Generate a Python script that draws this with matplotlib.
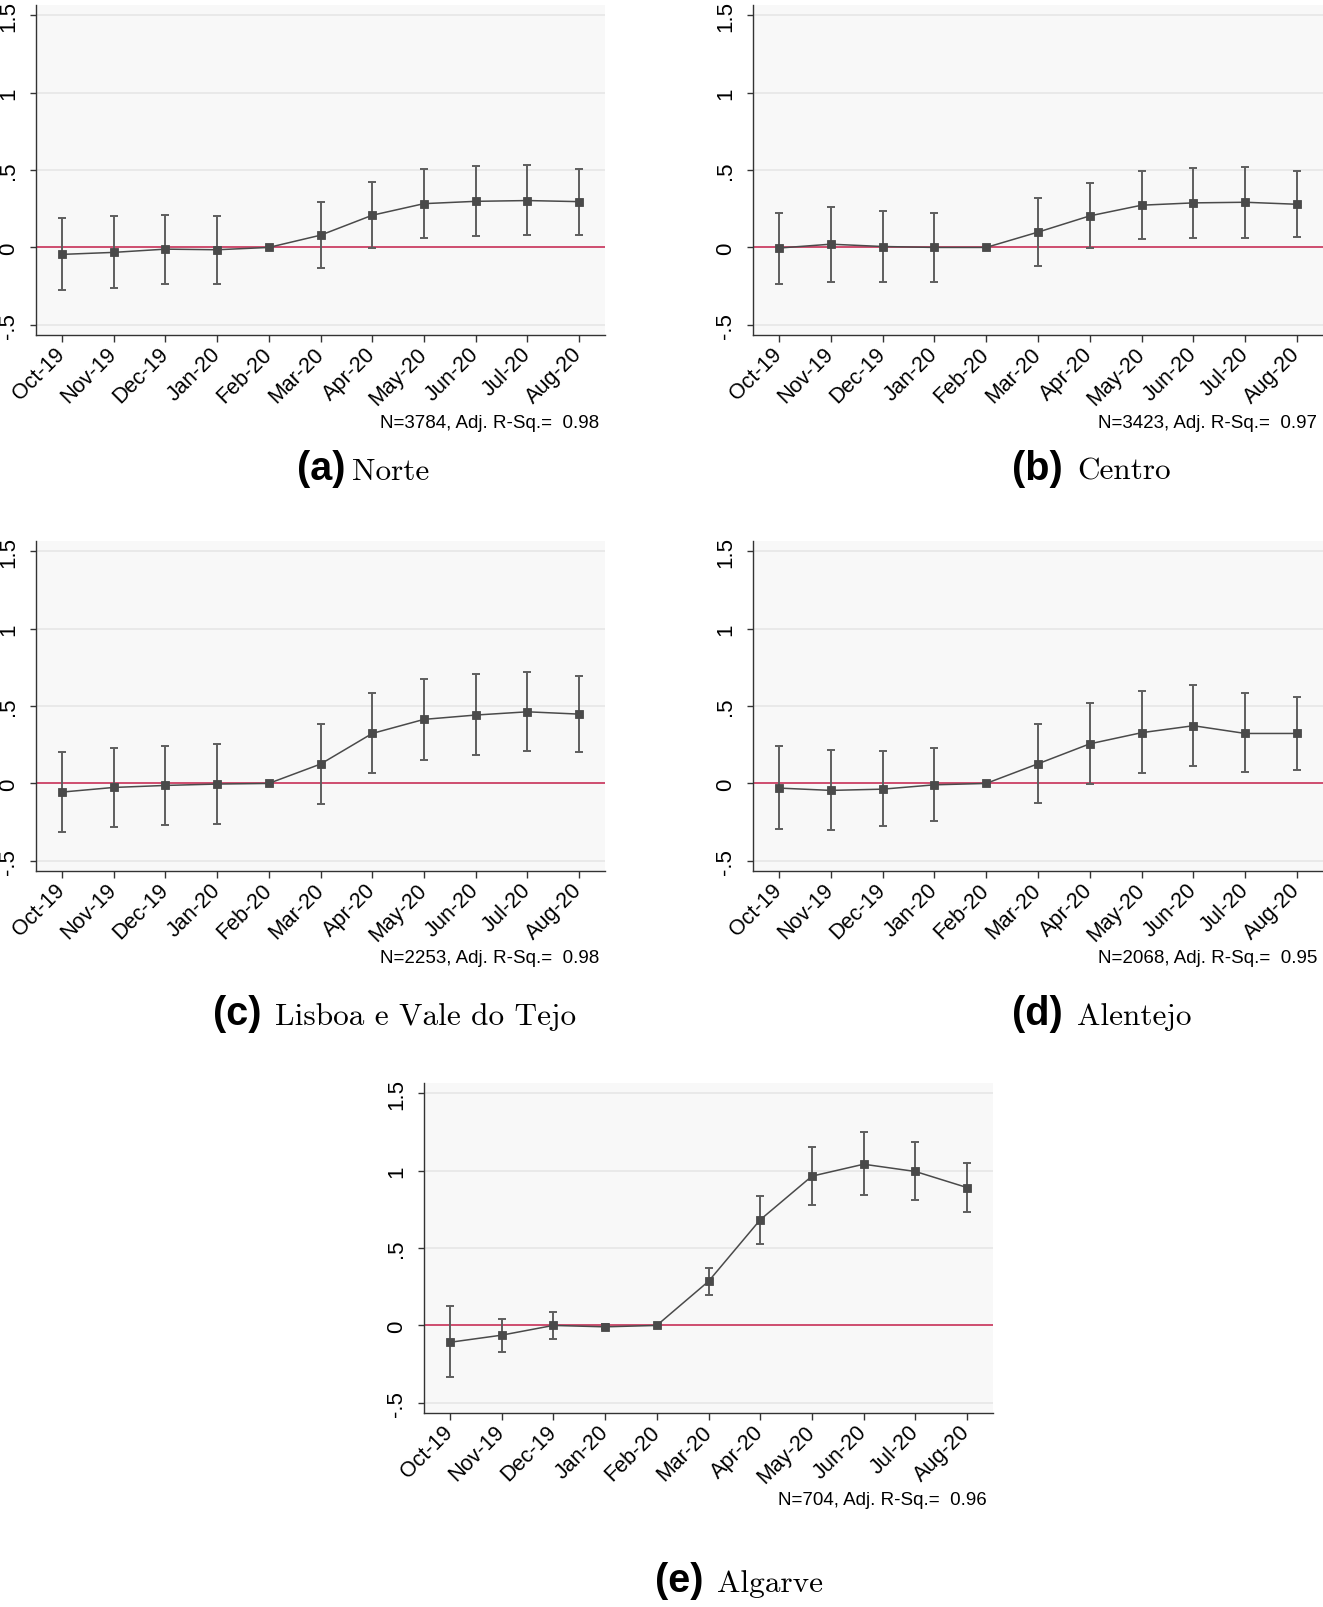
# Event-study coefficients by NUTS II region, Stata-like styling

import numpy as np
import matplotlib.pyplot as plt

months = ['Oct-19', 'Nov-19', 'Dec-19', 'Jan-20', 'Feb-20', 'Mar-20',
          'Apr-20', 'May-20', 'Jun-20', 'Jul-20', 'Aug-20']
yticks = [-0.5, 0, 0.5, 1, 1.5]
ytick_labels = ['-.5', '0', '.5', '1', '1.5']

# point estimates and 95% CI (Feb-20 is the reference month, no CI)
norte_coef = [-0.045, -0.032, -0.011, -0.015, 0.0, 0.079, 0.208, 0.283, 0.298, 0.303, 0.296]
norte_lo = [-0.277, -0.262, -0.234, -0.234, None, -0.133, -0.002, 0.062, 0.075, 0.082, 0.082]
norte_hi = [0.189, 0.200, 0.208, 0.202, None, 0.292, 0.420, 0.504, 0.524, 0.530, 0.509]

centro_coef = [-0.004, 0.021, 0.006, 0.0, 0.0, 0.099, 0.204, 0.273, 0.288, 0.292, 0.279]
centro_lo = [-0.238, -0.223, -0.223, -0.223, None, -0.118, -0.004, 0.054, 0.064, 0.064, 0.067]
centro_hi = [0.225, 0.262, 0.236, 0.223, None, 0.318, 0.418, 0.496, 0.511, 0.519, 0.494]

lisboa_coef = [-0.056, -0.026, -0.013, -0.004, 0.0, 0.125, 0.323, 0.414, 0.442, 0.463, 0.448]
lisboa_lo = [-0.315, -0.284, -0.267, -0.259, None, -0.131, 0.065, 0.151, 0.183, 0.207, 0.205]
lisboa_hi = [0.203, 0.231, 0.244, 0.254, None, 0.386, 0.584, 0.677, 0.705, 0.718, 0.694]

alentejo_coef = [-0.030, -0.045, -0.037, -0.009, 0.0, 0.127, 0.256, 0.328, 0.373, 0.323, 0.323]
alentejo_lo = [-0.297, -0.300, -0.276, -0.244, None, -0.129, -0.002, 0.065, 0.110, 0.071, 0.084]
alentejo_hi = [0.239, 0.216, 0.209, 0.228, None, 0.384, 0.519, 0.597, 0.636, 0.584, 0.560]

algarve_coef = [-0.109, -0.063, 0.0, -0.009, 0.0, 0.285, 0.683, 0.965, 1.042, 0.995, 0.891]
algarve_lo = [-0.333, -0.171, -0.088, -0.025, None, 0.197, 0.528, 0.778, 0.843, 0.808, 0.734]
algarve_hi = [0.123, 0.044, 0.086, 0.007, None, 0.373, 0.838, 1.153, 1.248, 1.185, 1.049]

region_names = ['Norte', 'Centro', 'Lisboa e Vale do Tejo', 'Alentejo', 'Algarve']
letters = ['(a)', '(b)', '(c)', '(d)', '(e)']
n_obs = [3784, 3423, 2253, 2068, 704]
adj_r2 = [0.98, 0.97, 0.98, 0.95, 0.96]

plt.rcParams['font.family'] = 'Liberation Sans'

W, H = 1323, 1608
fig = plt.figure(figsize=(W / 100, H / 100), dpi=100)


def px_rect(x0, y0, x1, y1):
    # pixel box (from top-left) -> figure fraction rect
    return [x0 / W, 1 - y1 / H, (x1 - x0) / W, (y1 - y0) / H]


def draw_panel(box, coef, lo, hi, n, r2, letter, name, lab_x, name_x, cap_y):
    ax = fig.add_axes(px_rect(*box))
    ax.set_facecolor('#f8f8f8')
    x = np.arange(len(months))

    ax.axhline(0, color='#c8234e', lw=1.1, zorder=2)

    idx = [i for i in range(len(months)) if lo[i] is not None]
    c = np.array([coef[i] for i in idx])
    ax.errorbar(x[idx], c,
                yerr=[c - np.array([lo[i] for i in idx]), np.array([hi[i] for i in idx]) - c],
                fmt='none', ecolor='#5e5e5e', elinewidth=1.4, capsize=3,
                capthick=1.4, zorder=3)
    ax.plot(x, coef, color='#4a4a4a', lw=1.1, marker='s', ms=5.6, mew=0.6,
            mfc='#4a4a4a', mec='#4a4a4a', zorder=4)

    ax.set_xlim(-0.5, 10.5)
    ax.set_ylim(-0.566, 1.567)
    ax.set_yticks(yticks)
    ax.set_yticklabels(ytick_labels)
    ax.set_xticks(x)
    ax.set_xticklabels(months)
    ax.tick_params(axis='y', length=4, width=1, color='#333333', pad=8,
                   labelsize=16, labelrotation=90)
    ax.tick_params(axis='x', length=5, width=1, color='#333333', pad=6,
                   labelsize=15.5, labelrotation=45)
    for lab in ax.get_yticklabels():
        lab.set_va('center')
    for lab in ax.get_xticklabels():
        lab.set_ha('right')
        lab.set_va('center')
        lab.set_rotation_mode('anchor')
    ax.grid(axis='y', color='#e6e6e6', lw=1.2)
    ax.set_axisbelow(True)
    for s in ['top', 'right']:
        ax.spines[s].set_visible(False)
    for s in ['left', 'bottom']:
        ax.spines[s].set_color('#333333')
        ax.spines[s].set_linewidth(1)

    # fit statistics under the axis
    fig.text((box[2] - 6) / W, 1 - (box[3] + 87) / H,
             f'N={n}, Adj. R-Sq.=  {r2:.2f}', ha='right', va='center', fontsize=13.5)

    # subfigure caption
    fig.text(lab_x / W, 1 - cap_y / H, letter, ha='left', va='baseline',
             fontsize=28.5, fontweight='bold')
    fig.text(name_x / W, 1 - cap_y / H, name, ha='left', va='baseline',
             fontsize=22.5, family='cmr10')


draw_panel((36, 6, 605, 336), norte_coef, norte_lo, norte_hi, n_obs[0], adj_r2[0],
           letters[0], region_names[0], 297, 352, 480)
draw_panel((753, 6, 1323, 336), centro_coef, centro_lo, centro_hi, n_obs[1], adj_r2[1],
           letters[1], region_names[1], 1012, 1077, 480)
draw_panel((36, 542, 605, 872), lisboa_coef, lisboa_lo, lisboa_hi, n_obs[2], adj_r2[2],
           letters[2], region_names[2], 213, 275, 1025)
draw_panel((753, 542, 1323, 872), alentejo_coef, alentejo_lo, alentejo_hi, n_obs[3], adj_r2[3],
           letters[3], region_names[3], 1012, 1077, 1025)
draw_panel((424, 1084, 993, 1414), algarve_coef, algarve_lo, algarve_hi, n_obs[4], adj_r2[4],
           letters[4], region_names[4], 655, 717, 1592)

fig.savefig('out.png', dpi=100)
